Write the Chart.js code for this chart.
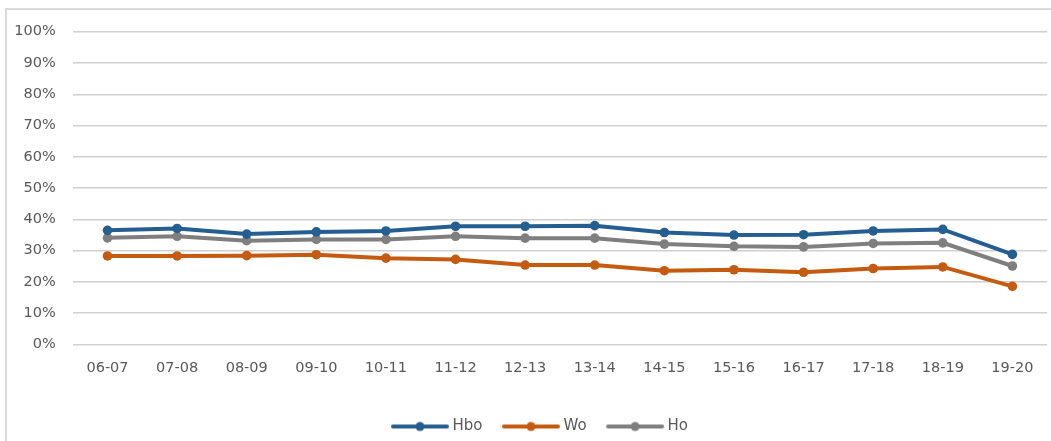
<!DOCTYPE html>
<html>
<head>
<meta charset="utf-8">
<script src="https://cdn.jsdelivr.net/npm/chart.js@4.4.1/dist/chart.umd.min.js"></script>
<style>
  html, body { margin: 0; padding: 0; background: #fff; overflow: hidden; }
  #frame {
    position: absolute; left: 5px; top: 8px; width: 1100px; height: 500px;
    border-left: 2px solid #d9d9d9; border-top: 2px solid #d9d9d9;
  }
  #wrap { position: absolute; left: 7px; top: 6px; width: 1045px; height: 438px; }
</style>
</head>
<body>
<div id="frame"></div>
<div id="wrap"><canvas id="chart" width="1045" height="438"></canvas></div>
<script>
// school years on the x axis
const years = ['06-07', '07-08', '08-09', '09-10', '10-11', '11-12', '12-13',
  '13-14', '14-15', '15-16', '16-17', '17-18', '18-19', '19-20'];

// shares in percent
const hbo = [36.5, 37.1, 35.3, 36.0, 36.3, 37.8, 37.8, 38.0, 35.8, 35.0, 35.1, 36.3, 36.8, 28.8];
const wo = [28.3, 28.3, 28.4, 28.7, 27.6, 27.2, 25.4, 25.4, 23.6, 23.9, 23.1, 24.3, 24.8, 18.6];
const ho = [34.1, 34.6, 33.2, 33.6, 33.6, 34.6, 34.0, 34.0, 32.1, 31.4, 31.2, 32.3, 32.5, 25.1];

const seriesNames = ['Hbo', 'Wo', 'Ho'];
const seriesColors = ['#255e91', '#c55a11', '#7f7f7f'];

const textColor = '#595959';
const gridColor = '#d0d0d0';

// legend icon: a short line with a dot in the middle
function legendIcon(color) {
  const c = document.createElement('canvas');
  c.width = 60;
  c.height = 12;
  const g = c.getContext('2d');
  g.strokeStyle = color;
  g.lineWidth = 4;
  g.lineCap = 'round';
  g.beginPath();
  g.moveTo(3, 6);
  g.lineTo(57, 6);
  g.stroke();
  g.fillStyle = color;
  g.beginPath();
  g.arc(30, 6, 4.5, 0, Math.PI * 2);
  g.fill();
  return c;
}
const icons = seriesColors.map(legendIcon);

function makeDataset(i, values) {
  return {
    label: seriesNames[i],
    data: values,
    borderColor: seriesColors[i],
    backgroundColor: seriesColors[i],
    borderWidth: 4,
    pointRadius: 4.8,
    pointHoverRadius: 4.8,
    pointBorderWidth: 0,
    tension: 0
  };
}

// the legend in the original sits a bit right of the canvas centre
const legendShift = {
  id: 'legendShift',
  afterLayout(chart) {
    chart.legend.left += 12;
    chart.legend.right += 12;
  }
};

new Chart(document.getElementById('chart'), {
  type: 'line',
  data: {
    labels: years,
    datasets: [makeDataset(0, hbo), makeDataset(1, wo), makeDataset(2, ho)]
  },
  plugins: [legendShift],
  options: {
    responsive: false,
    animation: false,
    layout: { padding: 0 },
    scales: {
      x: {
        offset: true,
        grid: { display: false, drawTicks: false },
        border: { display: false },
        ticks: {
          color: textColor,
          font: { family: 'DejaVu Sans', size: 14.5 },
          padding: 15,
          maxRotation: 0,
          autoSkip: false
        },
        afterFit: (scale) => { scale.height = 51; }
      },
      y: {
        min: 0,
        max: 100,
        grid: { color: gridColor, lineWidth: 1.5, drawTicks: false },
        border: { display: false },
        ticks: {
          stepSize: 10,
          color: textColor,
          font: { family: 'DejaVu Sans', size: 14.5 },
          padding: 17,
          callback: (v) => v + '%'
        },
        afterFit: (scale) => { scale.width = 65.7; }
      }
    },
    plugins: {
      tooltip: { enabled: false },
      legend: {
        position: 'bottom',
        labels: {
          color: textColor,
          font: { family: 'DejaVu Sans', size: 15 },
          usePointStyle: true,
          pointStyleWidth: 50,
          padding: 23.5,
          generateLabels: (chart) => {
            const items = Chart.defaults.plugins.legend.labels.generateLabels(chart);
            return items.map((it, i) => ({ ...it, pointStyle: icons[i] }));
          }
        }
      }
    }
  }
});
</script>
</body>
</html>
